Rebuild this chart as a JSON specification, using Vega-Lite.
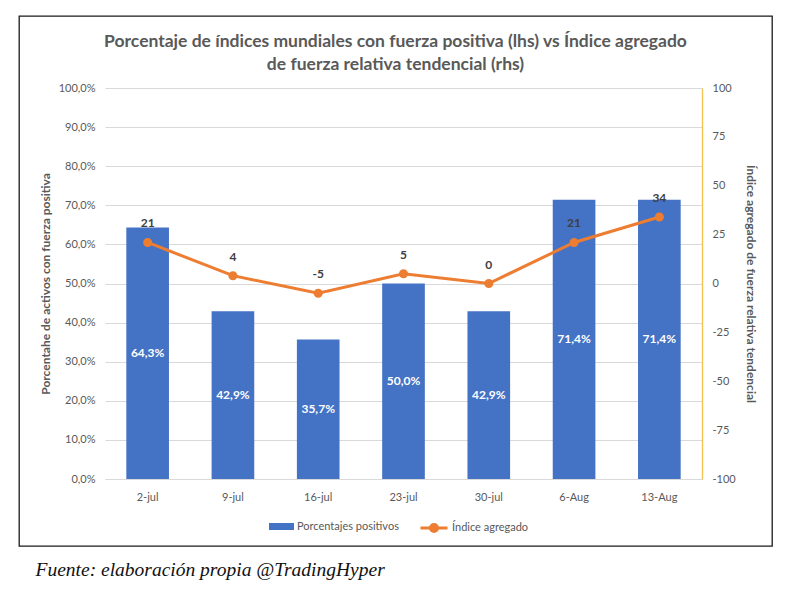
{
  "$schema": "https://vega.github.io/schema/vega-lite/v6.json",
  "width": 753,
  "height": 530,
  "autosize": {"type": "none"},
  "padding": {"left": 19, "top": 16, "right": 22, "bottom": 61},
  "background": "white",
  "title": {
    "text": ["Porcentaje de índices mundiales con fuerza positiva (lhs) vs Índice agregado", "de fuerza relativa tendencial (rhs)"],
    "anchor": "middle",
    "frame": "group",
    "offset": -75,
    "font": "Lato",
    "fontSize": 17.5,
    "fontWeight": "bold",
    "color": "#595959",
    "lineHeight": 23,
    "baseline": "bottom"
  },
  "data": {
    "values": [
      {"fecha": "2-jul", "pct": 0.643, "idx": 21},
      {"fecha": "9-jul", "pct": 0.429, "idx": 4},
      {"fecha": "16-jul", "pct": 0.357, "idx": -5},
      {"fecha": "23-jul", "pct": 0.5, "idx": 5},
      {"fecha": "30-jul", "pct": 0.429, "idx": 0},
      {"fecha": "6-Aug", "pct": 0.714, "idx": 21},
      {"fecha": "13-Aug", "pct": 0.714, "idx": 34}
    ]
  },
  "encoding": {
    "x": {
      "field": "fecha",
      "type": "nominal",
      "sort": null,
      "scale": {"range": [86, 683], "paddingInner": 0.5, "paddingOuter": 0.25},
      "axis": {
        "title": "Fuente: elaboración propia @TradingHyper",
        "offset": -67,
        "domainColor": "#d9d9d9",
        "ticks": false,
        "grid": false,
        "labelAngle": 0,
        "labelPadding": 12,
        "titleFont": "Liberation Serif",
        "titleFontStyle": "italic",
        "titleFontWeight": "normal",
        "titleFontSize": 19.5,
        "titleColor": "#111111",
        "titleX": 16,
        "titleY": 90,
        "titleAlign": "left",
        "titleBaseline": "middle"
      }
    }
  },
  "layer": [
    {
      "layer": [
        {
          "mark": {"type": "bar", "color": "#4472C4"},
          "encoding": {
            "y": {
              "field": "pct",
              "type": "quantitative",
              "scale": {"domain": [0, 1], "range": [463, 72], "nice": false},
              "axis": {
                "title": "Porcentahe de activos con fuerza positiva",
                "offset": -86,
                "format": ".1%",
                "values": [0, 0.1, 0.2, 0.3, 0.4, 0.5, 0.6, 0.7, 0.8, 0.9, 1],
                "domain": false,
                "ticks": false,
                "grid": true,
                "gridColor": "#d9d9d9",
                "labelPadding": 10,
                "titlePadding": 6
              }
            },
            "fill": {
              "datum": "Porcentajes positivos",
              "scale": {"range": ["#4472C4"]},
              "legend": {
                "title": null,
                "orient": "none",
                "legendX": 250,
                "legendY": 498,
                "padding": 0,
                "symbolType": "M-1,-0.28H1V0.28H-1Z",
                "symbolSize": 625,
                "symbolStrokeWidth": 0,
                "labelFont": "Lato",
                "labelFontSize": 11,
                "labelColor": "#595959",
                "labelOffset": 3
              }
            }
          }
        },
        {
          "transform": [{"calculate": "datum.pct / 2", "as": "mid"}],
          "mark": {"type": "text", "color": "white", "fontWeight": "bold", "fontSize": 12, "font": "Lato"},
          "encoding": {
            "y": {
              "field": "mid",
              "type": "quantitative",
              "scale": {"domain": [0, 1], "range": [463, 72], "nice": false}
            },
            "text": {"field": "pct", "type": "quantitative", "format": ".1%"}
          }
        }
      ]
    },
    {
      "layer": [
        {
          "mark": {"type": "line", "color": "#ED7D31", "strokeWidth": 3, "point": {"filled": true, "size": 50, "color": "#ED7D31"}},
          "encoding": {
            "y": {
              "field": "idx",
              "type": "quantitative",
              "scale": {"domain": [-100, 100], "range": [463, 72], "nice": false},
              "axis": {
                "orient": "right",
                "title": "Índice agregado de fuerza relativa tendencial",
                "offset": -70,
                "values": [-100, -75, -50, -25, 0, 25, 50, 75, 100],
                "grid": false,
                "ticks": false,
                "domainColor": "#F2C14E",
                "domainWidth": 1.3,
                "labelPadding": 10,
                "titlePadding": 8
              }
            },
            "stroke": {
              "datum": "Índice agregado",
              "scale": {"range": ["#ED7D31"]},
              "legend": {
                "title": null,
                "orient": "none",
                "legendX": 400,
                "legendY": 497,
                "padding": 0,
                "symbolType": "M-1,0H1M-0.26,0A0.26,0.26,0,1,1,0.26,0A0.26,0.26,0,1,1,-0.26,0Z",
                "symbolSize": 729,
                "symbolStrokeWidth": 3,
                "symbolFillColor": "#ED7D31",
                "labelFont": "Lato",
                "labelFontSize": 11,
                "labelColor": "#595959",
                "labelOffset": 3
              }
            }
          }
        },
        {
          "mark": {"type": "text", "color": "#404040", "fontWeight": "bold", "fontSize": 12, "font": "Lato", "dy": -19},
          "encoding": {
            "y": {
              "field": "idx",
              "type": "quantitative",
              "scale": {"domain": [-100, 100], "range": [463, 72], "nice": false}
            },
            "text": {"field": "idx", "type": "quantitative"}
          }
        }
      ]
    }
  ],
  "resolve": {"scale": {"y": "independent"}},
  "config": {
    "font": "Lato",
    "view": {"stroke": "#1a1a1a", "strokeWidth": 1.3},
    "locale": {"number": {"decimal": ",", "thousands": ".", "grouping": [3], "currency": ["", " €"], "minus": "-"}},
    "axis": {
      "labelFont": "Lato",
      "labelFontSize": 11,
      "labelColor": "#595959",
      "titleFont": "Lato",
      "titleFontSize": 12,
      "titleFontWeight": "bold",
      "titleColor": "#595959"
    }
  }
}
